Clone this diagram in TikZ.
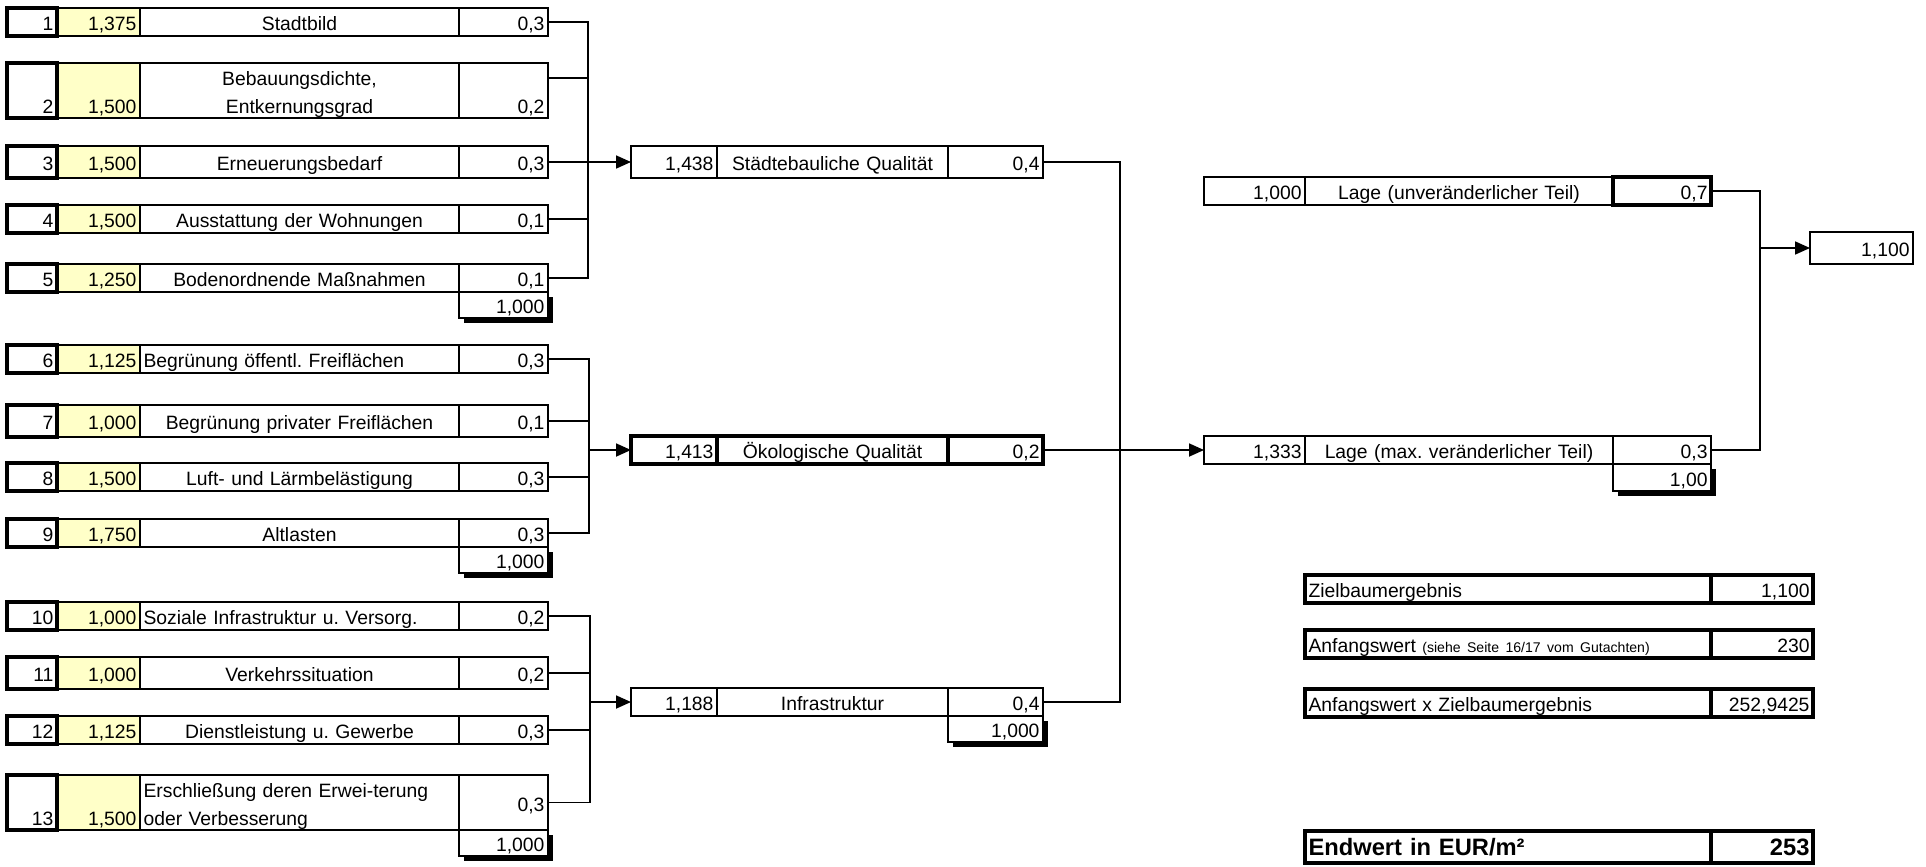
\documentclass[tikz,border=0pt]{standalone}
\usepackage{fontspec}
\setmainfont{Liberation Sans}
\usetikzlibrary{arrows.meta,shadows}
\frenchspacing

\newcommand{\pxu}{0.02cm}
\newcommand{\cellfont}{\fontsize{11}{14}\selectfont}
\newcommand{\kleinfont}{\fontsize{8}{10}\selectfont}
\newcommand{\grossfont}{\fontsize{13.5}{16}\selectfont\bfseries}
\newcommand{\zstrut}{\rule[-2.3pt]{0pt}{14.8pt}}
\definecolor{hellgelb}{RGB}{255,255,200}

\begin{document}
\begin{tikzpicture}[x=0.02cm,y=-0.02cm,line width=1pt,
  cell/.style={draw,line width=0.7pt,anchor=north west,inner xsep=2pt,inner ysep=0pt,
    outer sep=0pt,font=\cellfont,minimum height=28*\pxu,text width=#1*\pxu-4pt,align=right,
    execute at begin node=\zstrut,execute at end node=\zstrut},
  dick/.style={line width=1.8pt},
  gelb/.style={fill=hellgelb},
  mitte/.style={align=center},
  links/.style={align=left},
  hoch/.style={minimum height=#1*\pxu},
  summe/.style={cell=#1,fill=white,hoch=26,
    drop shadow={shadow xshift=0.1cm,shadow yshift=-0.1cm,fill=black,opacity=1}},
  pfeil/.style={-{Triangle[length=0.3cm,width=0.26cm]}}]
\useasboundingbox (0,0) rectangle (1926,866);

% Städtebauliche Qualität: Zeilen 1 bis 5
\node[cell=83,gelb] (v1) at (57,8) {1,375};
\node[cell=319,mitte] (l1) at (140,8) {Stadtbild};
\node[cell=89] (w1) at (459,8) {0,3};
\node[cell=50,dick] (n1) at (7,8) {1};
\node[cell=83,gelb,hoch=55] (v2) at (57,63) {\mbox{}\\1,500};
\node[cell=319,mitte,hoch=55] (l2) at (140,63) {Bebauungsdichte,\\Entkernungsgrad};
\node[cell=89,hoch=55] (w2) at (459,63) {\mbox{}\\0,2};
\node[cell=50,dick,hoch=55] (n2) at (7,63) {\mbox{}\\2};
\node[cell=83,gelb,hoch=32] (v3) at (57,146) {1,500};
\node[cell=319,mitte,hoch=32] (l3) at (140,146) {Erneuerungsbedarf};
\node[cell=89,hoch=32] (w3) at (459,146) {0,3};
\node[cell=50,dick,hoch=32] (n3) at (7,146) {3};
\node[cell=83,gelb] (v4) at (57,205) {1,500};
\node[cell=319,mitte] (l4) at (140,205) {Ausstattung der Wohnungen};
\node[cell=89] (w4) at (459,205) {0,1};
\node[cell=50,dick] (n4) at (7,205) {4};
\node[cell=83,gelb] (v5) at (57,264) {1,250};
\node[cell=319,mitte] (l5) at (140,264) {Bodenordnende Maßnahmen};
\node[cell=89] (w5) at (459,264) {0,1};
\node[cell=50,dick] (n5) at (7,264) {5};
\node[summe=89] (s1) at (459,292) {1,000};

% Ökologische Qualität: Zeilen 6 bis 9
\node[cell=83,gelb] (v6) at (57,345) {1,125};
\node[cell=319,links] (l6) at (140,345) {Begrünung öffentl. Freiflächen};
\node[cell=89] (w6) at (459,345) {0,3};
\node[cell=50,dick] (n6) at (7,345) {6};
\node[cell=83,gelb,hoch=32] (v7) at (57,405) {1,000};
\node[cell=319,mitte,hoch=32] (l7) at (140,405) {Begrünung privater Freiflächen};
\node[cell=89,hoch=32] (w7) at (459,405) {0,1};
\node[cell=50,dick,hoch=32] (n7) at (7,405) {7};
\node[cell=83,gelb] (v8) at (57,463) {1,500};
\node[cell=319,mitte] (l8) at (140,463) {Luft- und Lärmbelästigung};
\node[cell=89] (w8) at (459,463) {0,3};
\node[cell=50,dick] (n8) at (7,463) {8};
\node[cell=83,gelb] (v9) at (57,519) {1,750};
\node[cell=319,mitte] (l9) at (140,519) {Altlasten};
\node[cell=89] (w9) at (459,519) {0,3};
\node[cell=50,dick] (n9) at (7,519) {9};
\node[summe=89] (s2) at (459,547) {1,000};

% Infrastruktur: Zeilen 10 bis 13
\node[cell=83,gelb] (v10) at (57,602) {1,000};
\node[cell=319,links] (l10) at (140,602) {Soziale Infrastruktur u. Versorg.};
\node[cell=89] (w10) at (459,602) {0,2};
\node[cell=50,dick] (n10) at (7,602) {10};
\node[cell=83,gelb,hoch=32] (v11) at (57,657) {1,000};
\node[cell=319,mitte,hoch=32] (l11) at (140,657) {Verkehrssituation};
\node[cell=89,hoch=32] (w11) at (459,657) {0,2};
\node[cell=50,dick,hoch=32] (n11) at (7,657) {11};
\node[cell=83,gelb] (v12) at (57,716) {1,125};
\node[cell=319,mitte] (l12) at (140,716) {Dienstleistung u. Gewerbe};
\node[cell=89] (w12) at (459,716) {0,3};
\node[cell=50,dick] (n12) at (7,716) {12};
\node[cell=83,gelb,hoch=55] (v13) at (57,775) {\mbox{}\\1,500};
\node[cell=319,links,hoch=55] (l13) at (140,775) {Erschließung deren Erwei-terung\\oder Verbesserung};
\node[cell=89,hoch=55] (w13) at (459,775) {0,3};
\node[cell=50,dick,hoch=55] (n13) at (7,775) {\mbox{}\\13};
\node[summe=89] (s3) at (459,830) {1,000};

% zweite Ebene
\node[cell=86,hoch=32] (stv) at (631,146) {1,438};
\node[cell=231,mitte,hoch=32] (stl) at (717,146) {Städtebauliche Qualität};
\node[cell=95,hoch=32] (stw) at (948,146) {0,4};
\node[cell=86,dick] (okv) at (631,436) {1,413};
\node[cell=231,dick,mitte] (okl) at (717,436) {Ökologische Qualität};
\node[cell=95,dick] (okw) at (948,436) {0,2};
\node[cell=86] (inv) at (631,688) {1,188};
\node[cell=231,mitte] (inl) at (717,688) {Infrastruktur};
\node[cell=95] (inw) at (948,688) {0,4};
\node[summe=95] (ins) at (948,716) {1,000};

% dritte Ebene: Lage
\node[cell=101] (luv) at (1204,177) {1,000};
\node[cell=308,mitte] (lul) at (1305,177) {Lage (unveränderlicher Teil)};
\node[cell=98,dick] (luw) at (1613,177) {0,7};
\node[cell=101] (lmv) at (1204,436) {1,333};
\node[cell=308,mitte] (lml) at (1305,436) {Lage (max. veränderlicher Teil)};
\node[cell=98] (lmw) at (1613,436) {0,3};
\node[summe=98,hoch=27] (lms) at (1613,464) {1,00};
\node[cell=103,hoch=32] (erg) at (1810,232) {1,100};

% Ergebnis
\node[cell=406,dick,links] (zl) at (1305,575) {Zielbaumergebnis};
\node[cell=102,dick] (zw) at (1711,575) {1,100};
\node[cell=406,dick,links] (al) at (1305,630) {Anfangswert {\kleinfont (siehe Seite 16/17 vom Gutachten)}};
\node[cell=102,dick] (aw) at (1711,630) {230};
\node[cell=406,dick,links] (xl) at (1305,689) {Anfangswert x Zielbaumergebnis};
\node[cell=102,dick] (xw) at (1711,689) {252,9425};
\node[cell=406,dick,links,hoch=32,font=\grossfont] (el) at (1305,831) {Endwert in EUR/m²};
\node[cell=102,dick,hoch=32,font=\grossfont] (ew) at (1711,831) {253};

% Verbindungen
\coordinate (b1) at (588,0);
\coordinate (b2) at (589,0);
\coordinate (b3) at (590,0);
\coordinate (b4) at (1120,0);
\coordinate (b5) at (1760,0);
\draw (w1.east) -| (b1 |- w5.east) -- (w5.east);
\draw ([yshift=-0.3cm]w2.north east) -- ([yshift=-0.3cm]w2.north east -| b1);
\draw (w3.east) -- (w3.east -| b1);
\draw (w4.east) -- (w4.east -| b1);
\draw[pfeil] (b1 |- stv.west) -- (stv.west);
\draw (w6.east) -| (b2 |- w9.east) -- (w9.east);
\draw (w7.east) -- (w7.east -| b2);
\draw (w8.east) -- (w8.east -| b2);
\draw[pfeil] (b2 |- okv.west) -- (okv.west);
\draw (w10.east) -| (b3 |- w13.east) -- (w13.east);
\draw (w11.east) -- (w11.east -| b3);
\draw (w12.east) -- (w12.east -| b3);
\draw[pfeil] (b3 |- inv.west) -- (inv.west);
\draw (stw.east) -| (b4 |- inw.east) -- (inw.east);
\draw[pfeil] (okw.east) -- (lmv.west);
\draw (luw.east) -| (b5 |- lmw.east) -- (lmw.east);
\draw[pfeil] (b5 |- erg.west) -- (erg.west);
\end{tikzpicture}
\end{document}
